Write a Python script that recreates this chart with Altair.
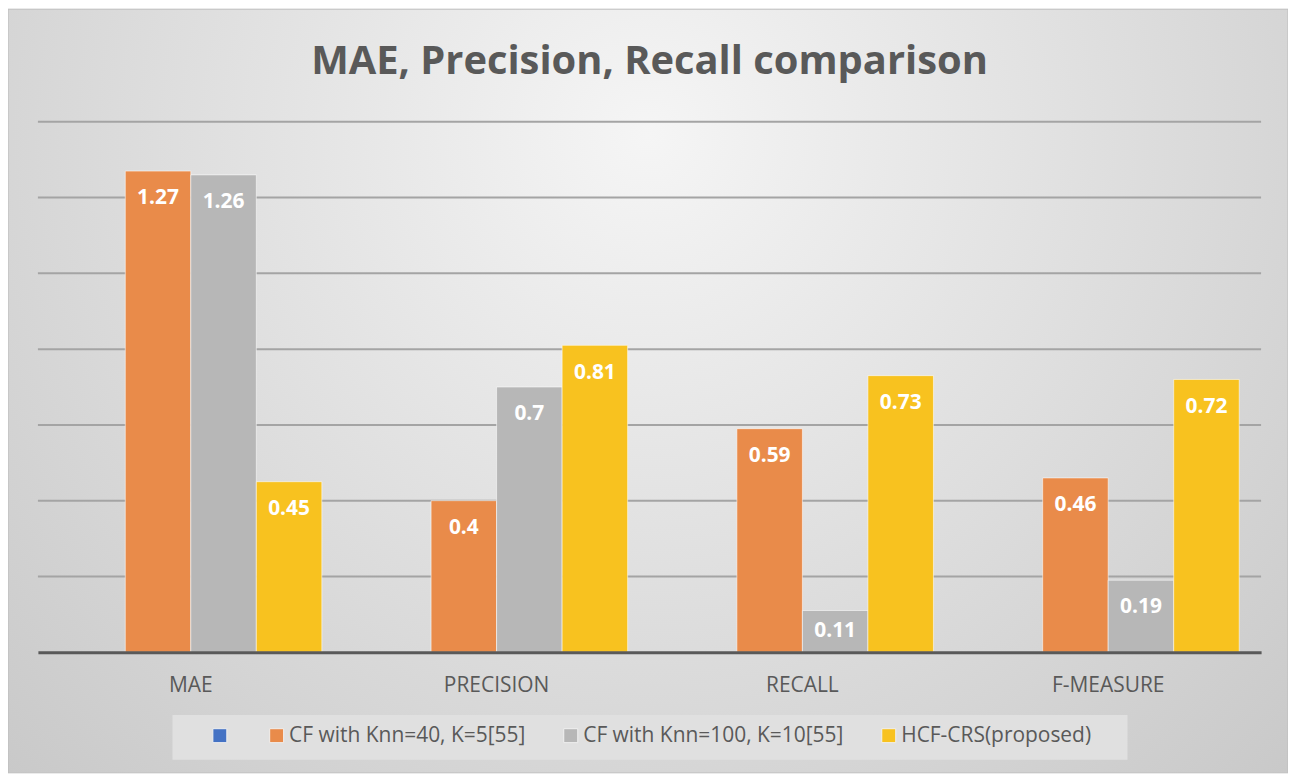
import altair as alt
import pandas as pd

categories = ["MAE", "PRECISION", "RECALL", "F-MEASURE"]
series = ["", "CF with Knn=40, K=5[55]", "CF with Knn=100, K=10[55]", "HCF-CRS(proposed)"]
colors = ["#4472C4", "#E98B4A", "#B7B7B7", "#F8C21F"]
cf40 = [1.27, 0.4, 0.59, 0.46]
cf100 = [1.26, 0.7, 0.11, 0.19]
hcf = [0.45, 0.81, 0.73, 0.72]
grid_values = [0.2, 0.4, 0.6, 0.8, 1.0, 1.2, 1.4]
title_text = "MAE, Precision, Recall comparison"

rows = []
for s, vals in zip(series[1:], [cf40, cf100, hcf]):
    for c, v in zip(categories, vals):
        rows.append({"category": c, "series": s, "value": v, "label": f"{v:g}"})
df = pd.DataFrame(rows)

W, H = 1227, 532
FONT = "Open Sans"

x_enc = alt.X(
    "category:N",
    sort=categories,
    scale=alt.Scale(paddingInner=0.143, paddingOuter=0.0715),
    axis=alt.Axis(
        title=None, labelAngle=0, ticks=False, tickSize=0, labelPadding=22,
        labelFontSize=21, labelFont=FONT, labelColor="#595959",
        domainColor="#595959", domainWidth=3, zindex=1, grid=False,
    ),
)
xoff_enc = alt.XOffset("series:N", scale=alt.Scale(domain=series, paddingInner=0, paddingOuter=0))
y_scale = alt.Scale(domain=[0, 1.4], nice=False, zero=True)

bg = alt.Chart(alt.Data(values=[{"k": 0}])).mark_rect(
    fill={
        "gradient": "radial",
        "x1": 0.5, "y1": 0.3, "r1": 0,
        "x2": 0.5, "y2": 0.3, "r2": 0.85,
        "stops": [
            {"offset": 0, "color": "#f5f5f5"},
            {"offset": 1, "color": "#c0c0c0"},
        ],
    },
    stroke="#bdbdbd",
    strokeWidth=1,
).encode(
    x=alt.value(-30), x2=alt.value(1254), y=alt.value(-113), y2=alt.value(653)
)

grid = alt.Chart(pd.DataFrame({"g": grid_values})).mark_rule(
    color="#a4a4a4", strokeWidth=2
).encode(y=alt.Y("g:Q", scale=y_scale, axis=None))

bars = alt.Chart(df).mark_bar(
    stroke="white", strokeOpacity=0.55, strokeWidth=1
).encode(
    x=x_enc,
    xOffset=xoff_enc,
    y=alt.Y("value:Q", scale=y_scale, axis=None),
    color=alt.Color(
        "series:N",
        scale=alt.Scale(domain=series, range=colors),
        legend=alt.Legend(
            title=None, orient="none", legendX=172, legendY=605,
            direction="horizontal", symbolType="square", symbolSize=196,
            labelFontSize=21, labelFont=FONT, labelColor="#595959",
            columnPadding=34, labelOffset=2, padding=0,
            symbolStrokeWidth=1, symbolStrokeColor="#f0f0f0", symbolOpacity=1,
            labelLimit=500, zindex=1,
        ),
    ),
)

labels = alt.Chart(df).transform_calculate(
    label_y="datum.value >= 0.15 ? datum.value - 0.072 : datum.value / 2"
).mark_text(
    color="white", fontSize=21, fontWeight="bold", font=FONT, baseline="middle", align="center"
).encode(
    x=alt.X("category:N", sort=categories),
    xOffset="series:N",
    y=alt.Y("label_y:Q", scale=y_scale, axis=None),
    text="label:N",
)

legend_box = alt.Chart(alt.Data(values=[{"k": 0}])).mark_rect(fill="#e0e0e0").encode(
    x=alt.value(135), x2=alt.value(1093), y=alt.value(595), y2=alt.value(640)
)

title = alt.Chart(alt.Data(values=[{"k": 0}])).mark_text(
    fontSize=40, fontWeight="bold", font=FONT, color="#595959",
    align="center", baseline="alphabetic",
).encode(x=alt.value(W / 2), y=alt.value(-48), text=alt.value(title_text))

chart = alt.layer(bg, grid, bars, labels, legend_box, title).properties(
    width=W,
    height=H,
    padding={"left": 30, "top": 113, "right": 27, "bottom": 121},
    autosize=alt.AutoSizeParams(type="none"),
).configure_view(stroke=None)

chart.save("out.html", embed_options={"renderer": "svg", "actions": False})
